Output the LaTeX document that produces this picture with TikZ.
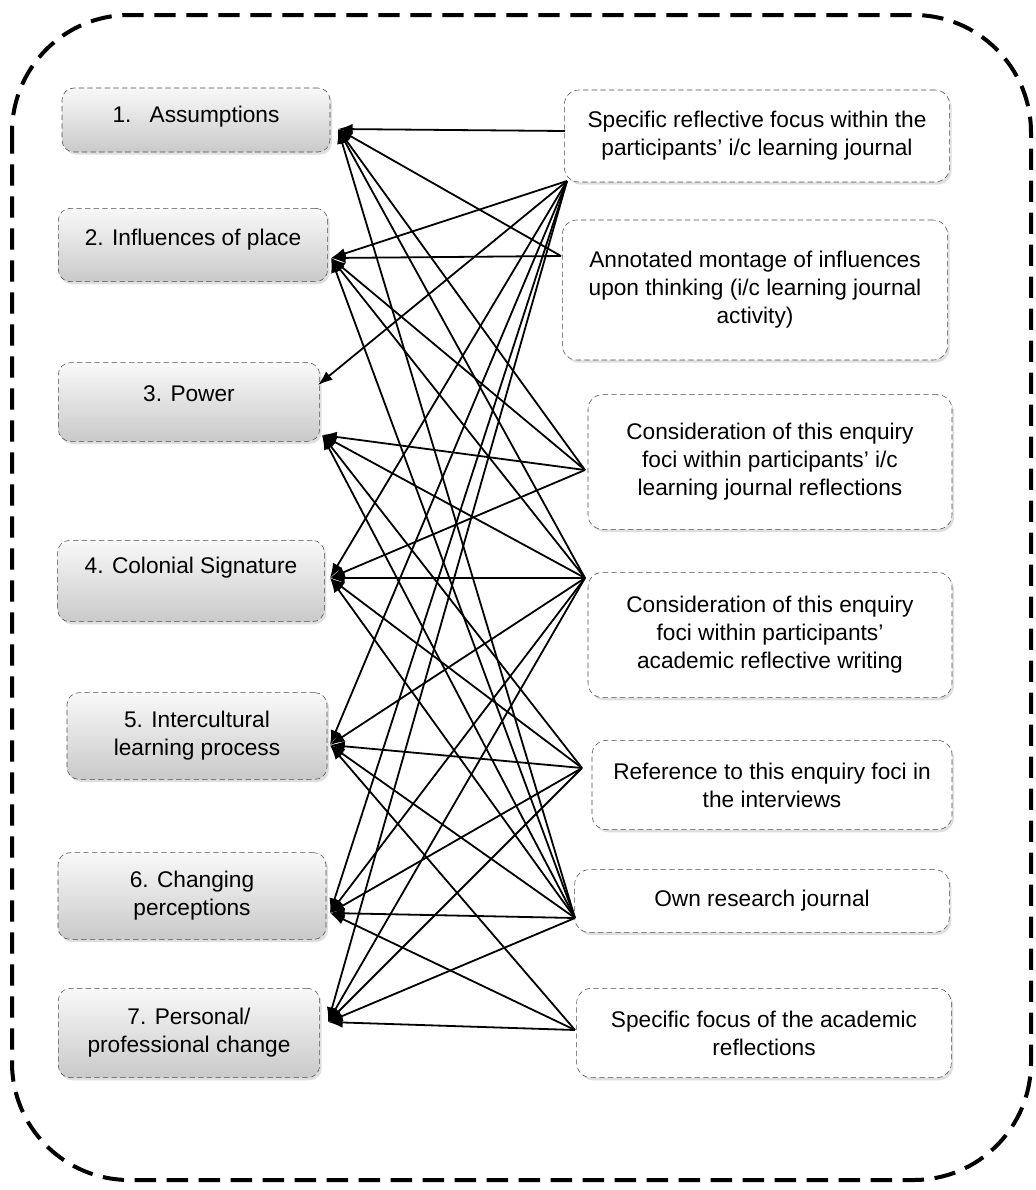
\documentclass[tikz,border=0pt]{standalone}
\usepackage{fontspec}
\setmainfont{Liberation Sans}
\usetikzlibrary{arrows.meta,shadows}

\begin{document}
\begin{tikzpicture}[x=0.75pt, y=-0.75pt, >={Latex[length=11pt,width=8pt]},
    font=\fontsize{17}{21}\selectfont,
    focus/.style={draw=black!70, dash pattern=on 4pt off 2.5pt, rounded corners=9pt, top color=gray!5, bottom color=gray!42, align=center, drop shadow={opacity=0.25, shadow xshift=1.5pt, shadow yshift=-2pt}},
    source/.style={draw=black!70, dash pattern=on 4pt off 2.5pt, rounded corners=11pt, fill=white, align=center, drop shadow={opacity=0.25, shadow xshift=1.5pt, shadow yshift=-2pt}},
    link/.style={->, line width=1.35pt}]
      \useasboundingbox (0,0) rectangle (1036,1190);
      \draw[line width=3pt, dash pattern=on 16pt off 8pt, rounded corners=88pt] (12,15) rectangle (1031,1180);
      % enquiry foci
      \node[focus, minimum width=201pt, minimum height=48pt, text depth=8pt] (l1) at (196,120) {1.\hspace{0.8em}Assumptions};
      \node[focus, minimum width=202pt, minimum height=55pt, text depth=11pt] (l2) at (193,245) {2. Influences of place};
      \node[focus, minimum width=196pt, minimum height=59pt, text depth=13pt] (l3) at (189,402) {3. Power};
      \node[focus, minimum width=200pt, minimum height=61pt, text depth=24pt] (l4) at (191,581) {4. Colonial Signature};
      \node[focus, minimum width=195pt, minimum height=65pt] (l5) at (197,736) {5. Intercultural\\learning process};
      \node[focus, minimum width=201pt, minimum height=65pt] (l6) at (192,896) {6. Changing\\perceptions};
      \node[focus, minimum width=196pt, minimum height=67pt] (l7) at (189,1033) {7. Personal/\\professional change};
      % data sources
      \node[source, minimum width=289pt, minimum height=69pt] (r1) at (757,136) {Specific reflective focus within the\\participants’ i/c learning journal};
      \node[source, minimum width=289pt, minimum height=105pt] (r2) at (755,290) {Annotated montage of influences\\upon thinking (i/c learning journal\\activity)};
      \node[source, minimum width=273pt, minimum height=101pt] (r3) at (770,462) {Consideration of this enquiry\\foci within participants’ i/c\\learning journal reflections};
      \node[source, minimum width=273pt, minimum height=94pt] (r4) at (770,635) {Consideration of this enquiry\\foci within participants’\\academic reflective writing};
      \node[source, minimum width=270pt, minimum height=67pt] (r5) at (772,785) {Reference to this enquiry foci in\\the interviews};
      \node[source, minimum width=281pt, minimum height=47pt] (r6) at (762,901) {Own research journal};
      \node[source, minimum width=281pt, minimum height=67pt] (r7) at (764,1033) {Specific focus of the academic\\reflections};
      % arrow tips and line ends
      \coordinate (t1) at (338,129);
      \coordinate (t2) at (331,258);
      \coordinate (t3a) at (318,385);
      \coordinate (t3) at (322,435);
      \coordinate (t4) at (330,578);
      \coordinate (t5) at (330,745);
      \coordinate (t6) at (330,913);
      \coordinate (t7) at (328,1022);
      \coordinate (s1a) at (565,131);
      \coordinate (s1) at (567,181);
      \coordinate (s2) at (561,256);
      \coordinate (s3) at (585,470);
      \coordinate (s4) at (585,578);
      \coordinate (s5) at (582,768);
      \coordinate (s6) at (575,918);
      \coordinate (s7) at (575,1030);
      % links
      \draw[link] (s1a) -- (t1);
      \draw[link] (s1) -- (t2);
      \draw[link] (s1) -- (t3a);
      \draw[link] (s1) -- (t4);
      \draw[link] (s1) -- (t5);
      \draw[link] (s1) -- (t6);
      \draw[link] (s1) -- (t7);
      \draw[link] (s2) -- (t1);
      \draw[link] (s2) -- (t2);
      \draw[link] (s3) -- (t1);
      \draw[link] (s3) -- (t2);
      \draw[link] (s3) -- (t3);
      \draw[link] (s3) -- (t4);
      \draw[link] (s4) -- (t1);
      \draw[link] (s4) -- (t2);
      \draw[link] (s4) -- (t3);
      \draw[link] (s4) -- (t4);
      \draw[link] (s4) -- (t5);
      \draw[link] (s4) -- (t6);
      \draw[link] (s4) -- (t7);
      \draw[link] (s5) -- (t3);
      \draw[link] (s5) -- (t4);
      \draw[link] (s5) -- (t5);
      \draw[link] (s5) -- (t6);
      \draw[link] (s5) -- (t7);
      \draw[link] (s6) -- (t1);
      \draw[link] (s6) -- (t2);
      \draw[link] (s6) -- (t3);
      \draw[link] (s6) -- (t4);
      \draw[link] (s6) -- (t5);
      \draw[link] (s6) -- (t6);
      \draw[link] (s6) -- (t7);
      \draw[link] (s7) -- (t5);
      \draw[link] (s7) -- (t6);
      \draw[link] (s7) -- (t7);
\end{tikzpicture}
\end{document}
